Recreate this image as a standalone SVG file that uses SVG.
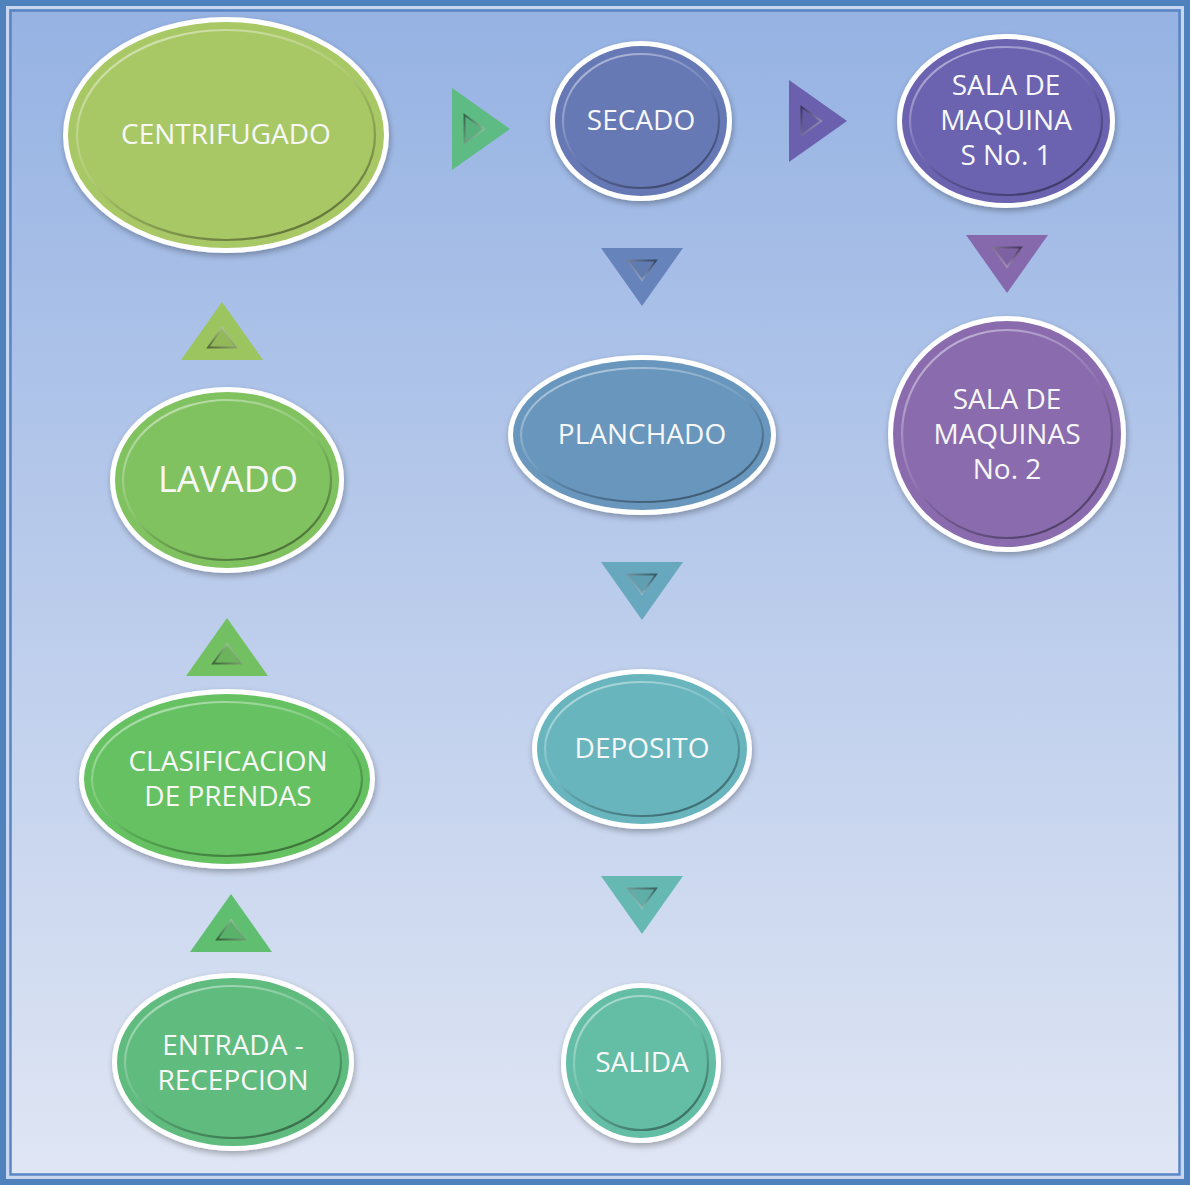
<svg xmlns="http://www.w3.org/2000/svg" xmlns:xlink="http://www.w3.org/1999/xlink" width="1190" height="1185" viewBox="0 0 1190 1185">
<defs>
  <linearGradient id="bg" x1="0" y1="0" x2="0" y2="1">
    <stop offset="0" stop-color="#95b2e3"/>
    <stop offset="1" stop-color="#e0e6f4"/>
  </linearGradient>
  <linearGradient id="bevel" x1="0.2" y1="0" x2="0.8" y2="1">
    <stop offset="0" stop-color="#ffffff" stop-opacity="0.5"/>
    <stop offset="0.45" stop-color="#ffffff" stop-opacity="0.1"/>
    <stop offset="0.6" stop-color="#000000" stop-opacity="0.12"/>
    <stop offset="1" stop-color="#000000" stop-opacity="0.45"/>
  </linearGradient>
  <linearGradient id="tbevel" x1="0" y1="0" x2="1" y2="1">
    <stop offset="0" stop-color="#000000" stop-opacity="0.45"/>
    <stop offset="1" stop-color="#ffffff" stop-opacity="0.45"/>
  </linearGradient>
  <filter id="sh" x="-10%" y="-10%" width="120%" height="125%">
    <feGaussianBlur in="SourceAlpha" stdDeviation="3"/>
    <feOffset dx="1" dy="3" result="b"/>
    <feComponentTransfer><feFuncA type="linear" slope="0.3"/></feComponentTransfer>
    <feMerge><feMergeNode/><feMergeNode in="SourceGraphic"/></feMerge>
  </filter>
  <g id="tri">
    <polygon points="-19,-41 39,0 -19,41"/>
    <polygon points="-6.5,-14 13,0 -6.5,14" fill="#000" fill-opacity="0.06" stroke="url(#tbevel)" stroke-width="2"/>
  </g>
  <style>
    .rim { fill: #ffffff; filter: url(#sh); }
    .bev { fill: none; stroke: url(#bevel); stroke-width: 2.2; }
    .lbl { font-family: "Open Sans", "Liberation Sans", sans-serif; font-size: 28px; fill: #f7f7f7; text-anchor: middle; }
  </style>
</defs>

<rect x="0" y="0" width="1190" height="1185" fill="url(#bg)"/>
<rect x="3" y="3" width="1184" height="1179" fill="none" stroke="#4f81bd" stroke-width="6"/>
<rect x="7.5" y="7.5" width="1175" height="1170" fill="none" stroke="#c9d6ef" stroke-width="3"/>
<rect x="10.5" y="10.5" width="1169" height="1164" fill="none" stroke="#5885c4" stroke-width="2.5"/>

<g id="connectors">
  <use xlink:href="#tri" transform="translate(471,129)" fill="#5ebb84"/>
  <use xlink:href="#tri" transform="translate(808,121)" fill="#6a60ae"/>
  <use xlink:href="#tri" transform="translate(642,267) rotate(90)" fill="#6683bb"/>
  <use xlink:href="#tri" transform="translate(1007,254) rotate(90)" fill="#8668ad"/>
  <use xlink:href="#tri" transform="translate(642,581) rotate(90)" fill="#67a8be"/>
  <use xlink:href="#tri" transform="translate(642,895) rotate(90)" fill="#65b9b2"/>
  <use xlink:href="#tri" transform="translate(222,341) rotate(-90)" fill="#9cc45f"/>
  <use xlink:href="#tri" transform="translate(227,657) rotate(-90)" fill="#72c062"/>
  <use xlink:href="#tri" transform="translate(231,933) rotate(-90)" fill="#5fbe70"/>
</g>

<g id="centrifugado">
  <ellipse class="rim" cx="226" cy="135" rx="163" ry="118"/>
  <ellipse cx="226" cy="135" rx="158" ry="113" fill="#a8c765"/>
  <ellipse class="bev" cx="226" cy="135" rx="149" ry="105"/>
  <text class="lbl" x="226" y="144">CENTRIFUGADO</text>
</g>

<g id="secado">
  <ellipse class="rim" cx="641" cy="121" rx="91" ry="80"/>
  <ellipse cx="641" cy="121" rx="86" ry="75" fill="#6679b5"/>
  <ellipse class="bev" cx="641" cy="121" rx="78" ry="67"/>
  <text class="lbl" x="641" y="130">SECADO</text>
</g>

<g id="sala1">
  <ellipse class="rim" cx="1006" cy="121" rx="109" ry="87"/>
  <ellipse cx="1006" cy="121" rx="104" ry="82" fill="#6b62b0"/>
  <ellipse class="bev" cx="1006" cy="121" rx="96" ry="74"/>
  <text class="lbl" x="1006" y="95">SALA DE</text>
  <text class="lbl" x="1006" y="130">MAQUINA</text>
  <text class="lbl" x="1006" y="165">S No. 1</text>
</g>

<g id="planchado">
  <ellipse class="rim" cx="642" cy="435" rx="134" ry="80"/>
  <ellipse cx="642" cy="435" rx="129" ry="75" fill="#6896bc"/>
  <ellipse class="bev" cx="642" cy="435" rx="121" ry="67"/>
  <text class="lbl" x="642" y="444">PLANCHADO</text>
</g>

<g id="sala2">
  <ellipse class="rim" cx="1007" cy="434" rx="119" ry="118"/>
  <ellipse cx="1007" cy="434" rx="114" ry="113" fill="#8a6cae"/>
  <ellipse class="bev" cx="1007" cy="434" rx="105" ry="104"/>
  <text class="lbl" x="1007" y="409">SALA DE</text>
  <text class="lbl" x="1007" y="444">MAQUINAS</text>
  <text class="lbl" x="1007" y="479">No. 2</text>
</g>

<g id="lavado">
  <ellipse class="rim" cx="227" cy="480" rx="117" ry="93"/>
  <ellipse cx="227" cy="480" rx="112" ry="88" fill="#80c160"/>
  <ellipse class="bev" cx="227" cy="480" rx="104" ry="80"/>
  <text class="lbl" x="228" y="492" style="font-size:36px">LAVADO</text>
</g>

<g id="deposito">
  <ellipse class="rim" cx="642" cy="749" rx="110" ry="80"/>
  <ellipse cx="642" cy="749" rx="105" ry="75" fill="#68b5bd"/>
  <ellipse class="bev" cx="642" cy="749" rx="97" ry="67"/>
  <text class="lbl" x="642" y="758">DEPOSITO</text>
</g>

<g id="clasificacion">
  <ellipse class="rim" cx="227" cy="779" rx="148" ry="90"/>
  <ellipse cx="227" cy="779" rx="143" ry="85" fill="#65c162"/>
  <ellipse class="bev" cx="227" cy="779" rx="135" ry="77"/>
  <text class="lbl" x="228" y="771">CLASIFICACION</text>
  <text class="lbl" x="228" y="806">DE PRENDAS</text>
</g>

<g id="entrada">
  <ellipse class="rim" cx="233" cy="1062" rx="121" ry="89"/>
  <ellipse cx="233" cy="1062" rx="116" ry="84" fill="#60bb7f"/>
  <ellipse class="bev" cx="233" cy="1062" rx="108" ry="76"/>
  <text class="lbl" x="233" y="1055">ENTRADA -</text>
  <text class="lbl" x="233" y="1090">RECEPCION</text>
</g>

<g id="salida">
  <ellipse class="rim" cx="641" cy="1063" rx="80" ry="80"/>
  <ellipse cx="641" cy="1063" rx="75" ry="75" fill="#64bda5"/>
  <ellipse class="bev" cx="641" cy="1063" rx="67" ry="67"/>
  <text class="lbl" x="642" y="1072">SALIDA</text>
</g>
</svg>
